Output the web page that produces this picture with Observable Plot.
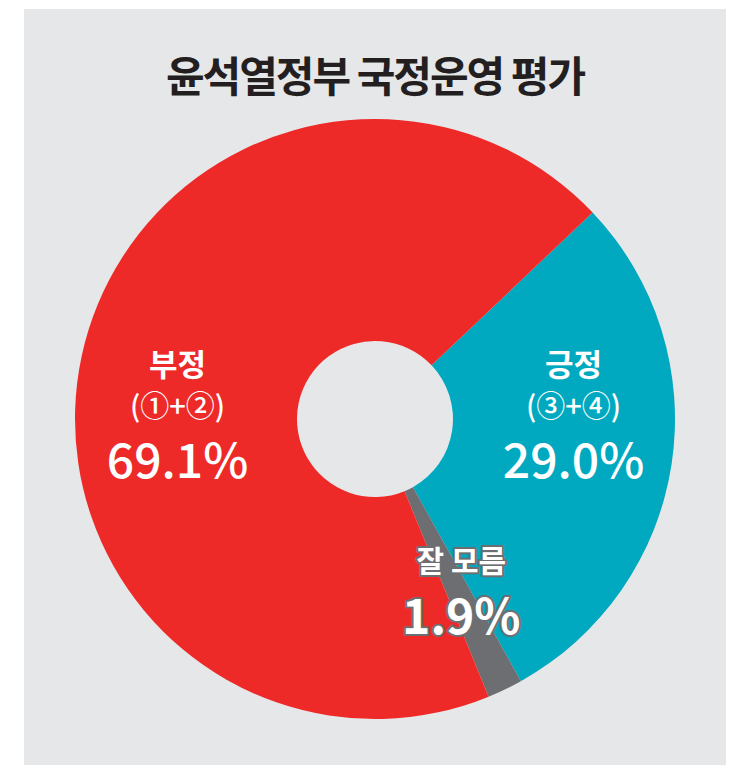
<!DOCTYPE html>
<html>
<head>
<meta charset="utf-8">
<script src="https://cdn.jsdelivr.net/npm/d3@7"></script>
<script src="https://cdn.jsdelivr.net/npm/@observablehq/plot@0.6"></script>
<style>
  html, body { margin: 0; padding: 0; background: #ffffff; }
  body { width: 750px; height: 775px; position: relative; overflow: hidden; }
  #panel { position: absolute; left: 24px; top: 9px; width: 702px; height: 756px; background: #e6e7e9; }
  #title { height: 101px; box-sizing: border-box; padding-top: 43px; text-align: center;
    font-family: "Noto Sans CJK KR", sans-serif; font-weight: 700; font-size: 42px; line-height: 44px;
    letter-spacing: -2px; color: #231f20; }
  #chart svg { display: block; }
</style>
</head>
<body>
<div id="panel">
  <div id="title">윤석열정부 국정운영 평가</div>
  <div id="chart"></div>
</div>
<script>
// ---- data ----
const categories = ["긍정", "잘 모름", "부정"];
const values = [29.0, 1.9, 69.1];
const sublabels = ["(③+④)", "", "(①+②)"];
const colors = ["#00a9c0", "#6d6e71", "#ee2a29"];
const startAngleDeg = 46.5;

// ---- build ----
const rows = categories.map((c, i) => ({category: c, value: values[i], sub: sublabels[i]}));
const color = Plot.scale({color: {type: "ordinal", domain: categories, range: colors}});
const pie = d3.pie().sort(null).value(d => d.value)
  .startAngle(startAngleDeg * Math.PI / 180)
  .endAngle(startAngleDeg * Math.PI / 180 + 2 * Math.PI);
const arcs = pie(rows);

const W = 702, H = 655, R = 300, CX = 351, CY = 309;
const outerR = 1, innerR = 0.26, rho = 0.66;
const fmt = d3.format(".1f");

const labels = arcs.map(a => {
  const mid = (a.startAngle + a.endAngle) / 2;
  const big = a.data.value >= 10;
  return {
    name: a.data.category,
    sub: a.data.sub,
    pct: fmt(a.data.value) + "%",
    big,
    x: big ? rho * Math.sign(Math.sin(mid)) : rho * Math.sin(mid),
    y: big ? 0 : rho * Math.cos(mid)
  };
});
const bigLabels = labels.filter(d => d.big);
const smallLabels = labels.filter(d => !d.big);

function slices(index, scales) {
  const cx = scales.x(0), cy = scales.y(0);
  const ro = scales.x(outerR) - cx, ri = scales.x(innerR) - cx;
  const arc = d3.arc().innerRadius(ri).outerRadius(ro);
  const g = d3.create("svg:g").attr("transform", `translate(${cx},${cy})`);
  g.selectAll("path").data(arcs).join("path")
    .attr("d", arc)
    .attr("fill", d => color.apply(d.data.category));
  return g.node();
}

const font = "'Noto Sans CJK KR', sans-serif";
const chart = Plot.plot({
  width: W, height: H,
  margin: 0,
  style: {background: "transparent", fontFamily: font, overflow: "visible"},
  x: {domain: [-CX / R, (W - CX) / R], axis: null},
  y: {domain: [-(H - CY) / R, CY / R], axis: null},
  marks: [
    slices,
    Plot.text(bigLabels, {x: "x", y: "y", text: "name", dy: -53, fontSize: 31, fontWeight: 700, fill: "white", fontFamily: font}),
    Plot.text(bigLabels, {x: "x", y: "y", text: "sub", dy: -12, fontSize: 29, fontWeight: 500, fill: "white", fontFamily: font}),
    Plot.text(bigLabels, {x: "x", y: "y", text: "pct", dy: 43, fontSize: 48, fontWeight: 500, fill: "white", fontFamily: font}),
    Plot.text(smallLabels, {x: "x", y: "y", text: "name", dy: -36, fontSize: 30, fontWeight: 700, fill: "white", stroke: "#6d6e71", strokeWidth: 4, fontFamily: font}),
    Plot.text(smallLabels, {x: "x", y: "y", text: "pct", dy: 21, fontSize: 48, fontWeight: 700, fill: "white", stroke: "#6d6e71", strokeWidth: 4, fontFamily: font})
  ]
});
document.getElementById("chart").append(chart);
</script>
</body>
</html>
